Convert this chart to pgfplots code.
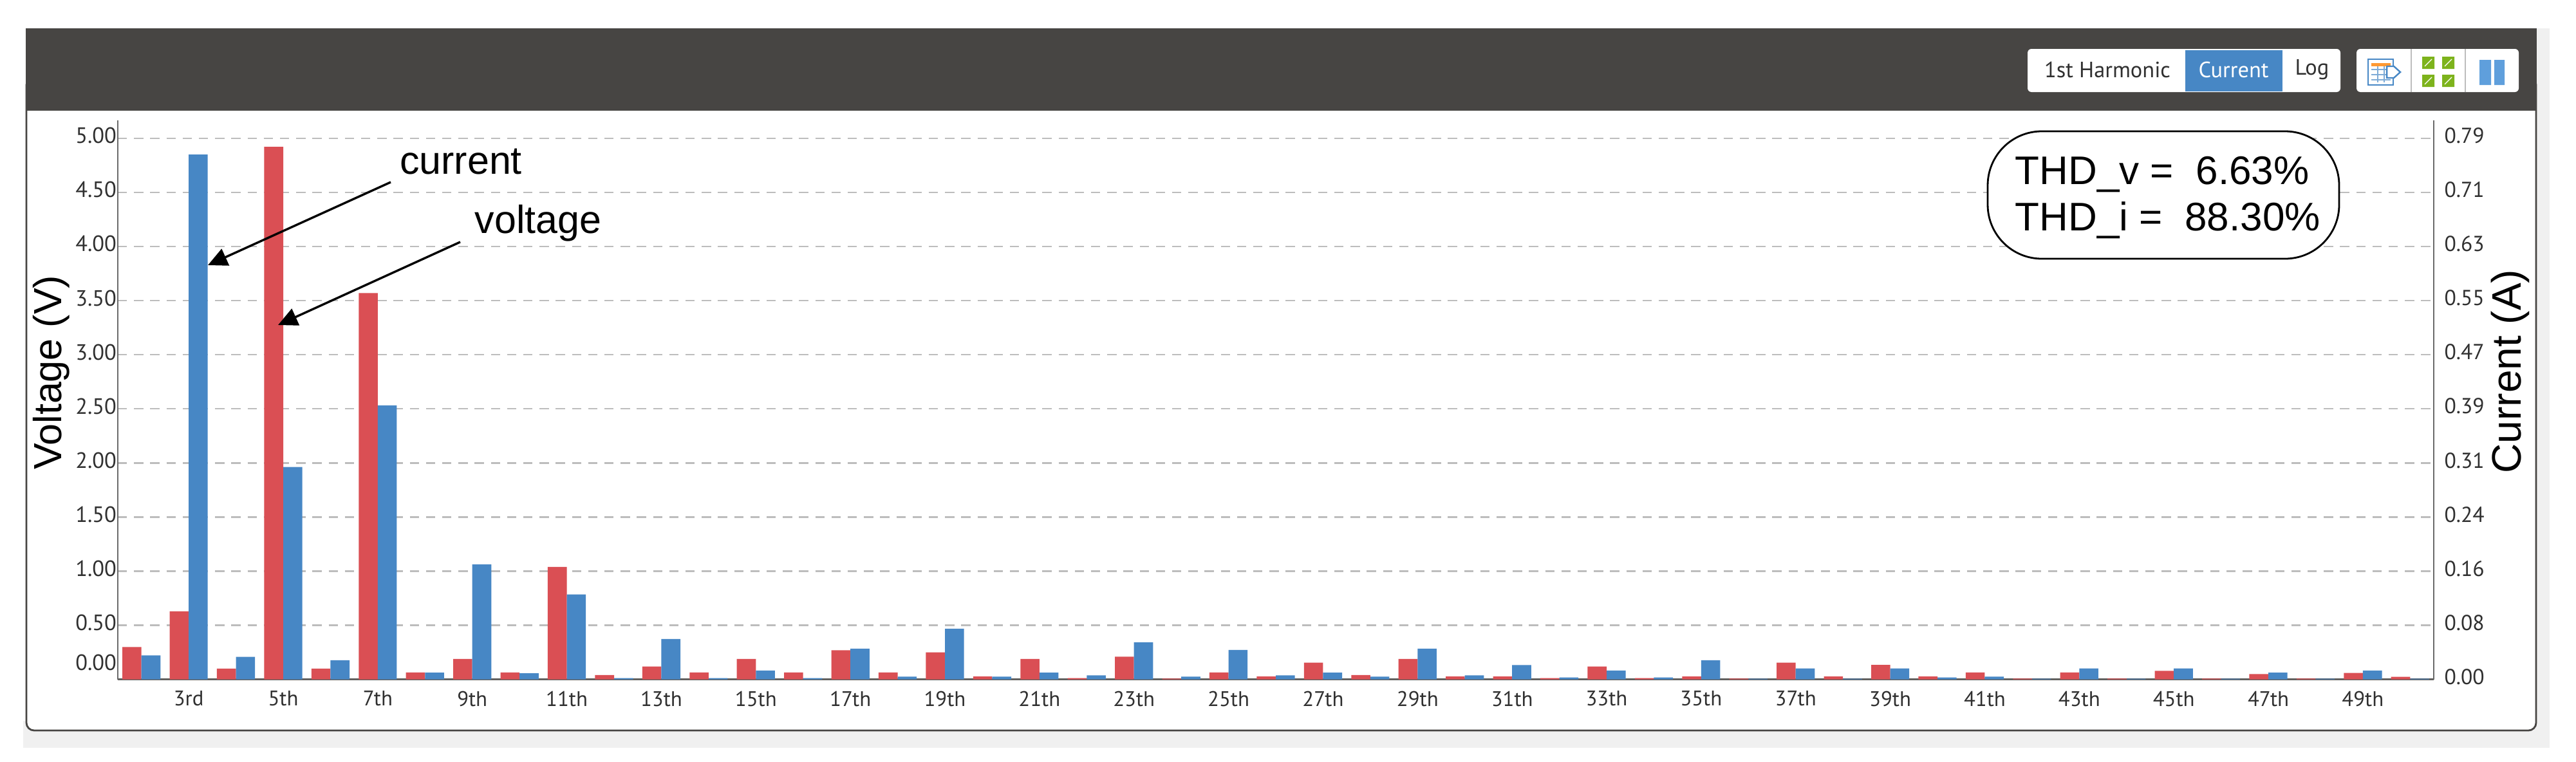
\documentclass[border=0pt]{standalone}
\usepackage{pgfplots}
\pgfplotsset{compat=1.18}
\usepackage{pgfplotstable}
\usepackage{fontspec}
\usetikzlibrary{arrows.meta}
\setmainfont{Liberation Sans}
\newfontfamily\uifont{PT Sans}
\definecolor{barred}{HTML}{DA4F54}
\definecolor{barblue}{HTML}{4787C5}
\definecolor{headbar}{HTML}{474543}
\definecolor{gridgray}{HTML}{BDBDBD}
\definecolor{axisgray}{HTML}{6A6A6A}
\definecolor{labgray}{HTML}{303030}
\definecolor{pagegray}{HTML}{F0F0F0}
\definecolor{icongreen}{HTML}{7DB31C}
\definecolor{iconblue}{HTML}{5F9FDC}

\pgfplotstableread{
h volt
2 0.30
3 0.63
4 0.10
5 4.92
6 0.10
7 3.57
8 0.065
9 0.19
10 0.065
11 1.04
12 0.04
13 0.12
14 0.065
15 0.19
16 0.065
17 0.27
18 0.065
19 0.25
20 0.028
21 0.19
22 0.012
23 0.21
24 0.008
25 0.065
26 0.028
27 0.155
28 0.04
29 0.19
30 0.028
31 0.028
32 0.012
33 0.12
34 0.012
35 0.028
36 0.008
37 0.155
38 0.028
39 0.135
40 0.028
41 0.065
42 0.008
43 0.065
44 0.008
45 0.08
46 0.008
47 0.05
48 0.008
49 0.06
50 0.025
}\voltdata
\pgfplotstableread{
h amp
2 0.035
3 0.766
4 0.033
5 0.310
6 0.028
7 0.400
8 0.010
9 0.168
10 0.009
11 0.124
12 0.002
13 0.059
14 0.002
15 0.013
16 0.002
17 0.045
18 0.004
19 0.074
20 0.004
21 0.010
22 0.006
23 0.054
24 0.004
25 0.043
26 0.006
27 0.010
28 0.004
29 0.045
30 0.006
31 0.021
32 0.003
33 0.013
34 0.003
35 0.028
36 0.001
37 0.016
38 0.001
39 0.016
40 0.003
41 0.004
42 0.001
43 0.016
44 0.001
45 0.016
46 0.001
47 0.010
48 0.001
49 0.013
50 0.001
}\ampdata

\begin{document}
\begin{tikzpicture}
\path[use as bounding box] (0,0) rectangle (1000.5pt,295.75pt);
\begin{scope}[x=0.25pt,y=-0.25pt,shift={(0pt,295.75pt)}]
  % page shading and panel
  \fill[white] (0,0) rectangle (4002,1183);
  \fill[pagegray] (36,1120) rectangle (3961,1162);
  \fill[pagegray] (3935,44) rectangle (3961,1162);
  \draw[fill=white,draw=headbar,line width=0.7pt,rounded corners=3pt] (41,120) rectangle (3940,1135);
  \fill[headbar] (40,44) rectangle (3941,172);
  % button group
  \fill[white,rounded corners=1.5pt] (3150,76) rectangle (3636,143);
  \fill[barblue] (3395,78) rectangle (3546,142);
  \node[font=\uifont\fontsize{8.6pt}{10pt}\selectfont,text=labgray] at (3274,108) {1st Harmonic};
  \node[font=\uifont\fontsize{8.6pt}{10pt}\selectfont,text=white] at (3470,108) {Current};
  \node[font=\uifont\fontsize{8.6pt}{10pt}\selectfont,text=labgray] at (3592,108) {Log};
  % icon group
  \fill[white,rounded corners=1.5pt] (3661,76) rectangle (3913,143);
  \draw[gridgray,line width=0.4pt] (3746,76) -- (3746,143) (3830,76) -- (3830,143);
  \draw[barblue,line width=0.7pt,fill=white] (3679,92) rectangle (3718,132);
  \fill[orange!80] (3684,98) rectangle (3714,103);
  \draw[barblue!70,line width=0.4pt] (3684,108) -- (3714,108) (3684,116) -- (3714,116) (3684,124) -- (3714,124) (3694,103) -- (3694,128) (3704,103) -- (3704,128);
  \draw[barblue,line width=0.6pt,fill=white] (3708,103) -- (3719,103) -- (3729,112) -- (3719,121) -- (3708,121) -- cycle;
  \fill[icongreen] (3763,88) rectangle (3782,107) (3794,88) rectangle (3813,107) (3763,116) rectangle (3782,135) (3794,116) rectangle (3813,135);
  \draw[white,line width=0.3pt] (3767,103) -- (3778,92) (3798,103) -- (3809,92) (3767,131) -- (3778,120) (3798,131) -- (3809,120);
  \fill[iconblue] (3852,93) rectangle (3870,132) (3875,93) rectangle (3891,132);
\end{scope}

\begin{axis}[
  at={(45.75pt,31.825pt)}, anchor=south west,
  scale only axis, width=899.5pt, height=217.175pt,
  xmin=1.5, xmax=50.5, ymin=0, ymax=5.165,
  axis x line=bottom, axis y line=left,
  axis line style={-,axisgray,line width=0.5pt},
  x axis line style={line width=0.75pt,color=headbar!85},
  ybar, bar width=7.4pt, 
  xtick={3,5,...,49},
  xticklabels={3rd,5th,7th,9th,11th,13th,15th,17th,19th,21th,23th,25th,27th,29th,31th,33th,35th,37th,39th,41th,43th,45th,47th,49th},
  ytick={0,0.5,...,5},
  yticklabels={\raisebox{11pt}{0.00},0.50,1.00,1.50,2.00,2.50,3.00,3.50,4.00,4.50,5.00},
  tick style={draw=none},
  major tick length=0pt,
  tick label style={font=\uifont\fontsize{8.2pt}{9pt}\selectfont,text=labgray},
  xticklabel style={yshift=-1pt},
  yticklabel style={xshift=3pt,yshift=1pt,font=\uifont\fontsize{8.6pt}{9pt}\selectfont},
  ymajorgrids, grid style={gridgray,line width=0.6pt,dash pattern=on 3.6pt off 2.7pt},
  ylabel={Voltage (V)},
  y label style={at={(axis description cs:-0.0286,0.549)},anchor=center,font=\fontsize{15.25pt}{18pt}\selectfont,text=black},
]
\addplot[fill=barred,draw=none,bar shift=-3.7pt] table[x=h,y=volt] {\voltdata};
\end{axis}

\begin{axis}[
  at={(45.75pt,31.825pt)}, anchor=south west,
  scale only axis, width=899.5pt, height=217.175pt,
  xmin=1.5, xmax=50.5, ymin=0, ymax=0.816,
  axis x line=none, axis y line=right,
  axis line style={-,axisgray,line width=0.5pt},
  ybar, bar width=7.4pt,
  ytick={0,0.079,0.158,0.237,0.316,0.395,0.474,0.553,0.632,0.711,0.79},
  yticklabels={0.00,0.08,0.16,0.24,0.31,0.39,0.47,0.55,0.63,0.71,0.79},
  tick style={draw=none},
  major tick length=0pt,
  tick label style={font=\uifont\fontsize{8.4pt}{9pt}\selectfont,text=labgray},
  yticklabel style={xshift=0.6pt,yshift=1pt},
  ylabel={Current (A)},
  y label style={at={(axis description cs:1.0331,0.551)},anchor=center,font=\fontsize{16pt}{18pt}\selectfont,text=black},
]
\addplot[fill=barblue,draw=none,bar shift=3.7pt] table[x=h,y=amp] {\ampdata};
\end{axis}

\begin{scope}[x=0.25pt,y=-0.25pt,shift={(0pt,295.75pt)}]
  \node[font=\fontsize{15.25pt}{18pt}\selectfont] at (716,251) {current};
  \node[font=\fontsize{15.25pt}{18pt}\selectfont] at (836,347) {voltage};
  \draw[black,line width=0.85pt,-{Triangle[length=7.5pt,width=7pt]}] (607,283) -- (323,412);
  \draw[black,line width=0.85pt,-{Triangle[length=7.5pt,width=7pt]}] (715,376) -- (432,505);
  \draw[black,line width=0.7pt,fill=white,rounded corners=21pt] (3088,204) rectangle (3634,402);
  \node[anchor=base west,inner sep=0pt,font=\fontsize{15.5pt}{18pt}\selectfont] at (3130,286) {THD\_v =\ \ 6.63\%};
  \node[anchor=base west,inner sep=0pt,font=\fontsize{15.5pt}{18pt}\selectfont] at (3130,358) {THD\_i =\ \ 88.30\%};
\end{scope}
\end{tikzpicture}
\end{document}
